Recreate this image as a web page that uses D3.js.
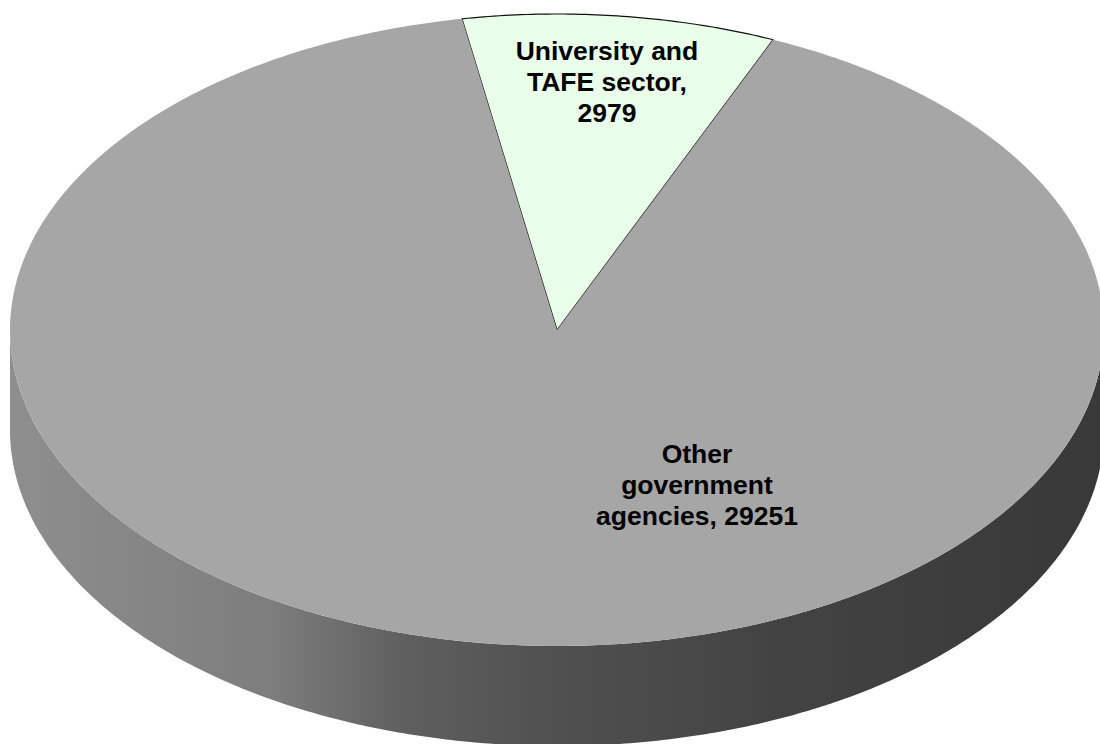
<!DOCTYPE html>
<html>
<head>
  <meta charset="UTF-8">
  <script src="https://d3js.org/d3.v7.min.js"></script>
  <title>3D pie</title>
  <style>
    body { margin: 0; background: #fff; }
    svg { display: block; }
  </style>
</head>
<body>
  <svg id="chart"></svg>
  <script>
    // data
    var categories = ["University and TAFE sector", "Other government agencies"];
    var values = [2979, 29251];
    var labelLines = [
      ["University and", "TAFE sector,", "2979"],
      ["Other", "government", "agencies, 29251"]
    ];
    var sliceColors = ["#eaffea", "#a6a6a6"];

    var width = 1100, height = 744;
    var cx = 557, cy = 330, rx = 547, ry = 316, depth = 100;
    var startDeg = -10;

    var svg = d3.select("#chart")
      .attr("width", width)
      .attr("height", height);

    var pie = d3.pie()
      .sort(null)
      .startAngle(startDeg * Math.PI / 180)
      .endAngle(startDeg * Math.PI / 180 + 2 * Math.PI);

    var arcs = pie(values);

    function pt(a, dy) {
      return [cx + rx * Math.sin(a), cy - ry * Math.cos(a) + (dy || 0)];
    }

    function arcPoints(a0, a1, dy) {
      var n = Math.max(2, Math.ceil(Math.abs(a1 - a0) / 0.01));
      return d3.range(n + 1).map(function(i) {
        return pt(a0 + (a1 - a0) * i / n, dy);
      });
    }

    // side gradient
    var defs = svg.append("defs");
    var grad = defs.append("linearGradient")
      .attr("id", "side")
      .attr("gradientUnits", "userSpaceOnUse")
      .attr("x1", cx - rx).attr("x2", cx + rx)
      .attr("y1", 0).attr("y2", 0);
    [[0, "#8e8e8e"], [0.24, "#7d7d7d"], [0.36, "#5f5f5f"], [0.5, "#505050"],
     [0.7, "#434343"], [1, "#383838"]].forEach(function(s) {
      grad.append("stop").attr("offset", s[0]).attr("stop-color", s[1]);
    });

    var line = d3.line();

    // front side walls
    var front = [[Math.PI / 2, 3 * Math.PI / 2], [-3 * Math.PI / 2, -Math.PI / 2]];
    arcs.forEach(function(d, i) {
      front.forEach(function(r) {
        var a0 = Math.max(d.startAngle, r[0]);
        var a1 = Math.min(d.endAngle, r[1]);
        if (a1 <= a0) return;
        var topPts = arcPoints(a0, a1, 0);
        var botPts = arcPoints(a1, a0, depth);
        svg.append("path")
          .attr("d", line(topPts.concat(botPts)) + "Z")
          .attr("fill", "url(#side)");
      });
    });

    // top faces
    svg.selectAll("path.top")
      .data(arcs)
      .enter().append("path")
      .attr("class", "top")
      .attr("d", function(d) {
        return line([[cx, cy]].concat(arcPoints(d.startAngle, d.endAngle, 0))) + "Z";
      })
      .attr("fill", function(d, i) { return sliceColors[i]; })
      .attr("stroke", function(d, i) { return i === 0 ? "#111" : "none"; })
      .attr("stroke-width", 1.2)
      .attr("stroke-linejoin", "round");

    // labels
    var labelPos = [
      function(d) {
        var a = (d.startAngle + d.endAngle) / 2;
        return [cx + 0.79 * rx * Math.sin(a), cy - 0.79 * ry * Math.cos(a)];
      },
      function(d) { return [cx + 0.256 * rx, cy + 0.49 * ry]; }
    ];
    var lh = 31;
    arcs.forEach(function(d, i) {
      var p = labelPos[i](d);
      var lines = labelLines[i];
      var t = svg.append("text")
        .attr("text-anchor", "middle")
        .attr("font-family", "'Liberation Sans', Arial, sans-serif")
        .attr("font-weight", "bold")
        .attr("font-size", 26.5)
        .attr("fill", "#000");
      lines.forEach(function(s, j) {
        t.append("tspan")
          .attr("x", p[0])
          .attr("y", p[1] + (j - (lines.length - 1) / 2) * lh)
          .attr("dy", "0.35em")
          .text(s);
      });
    });
  </script>
</body>
</html>
